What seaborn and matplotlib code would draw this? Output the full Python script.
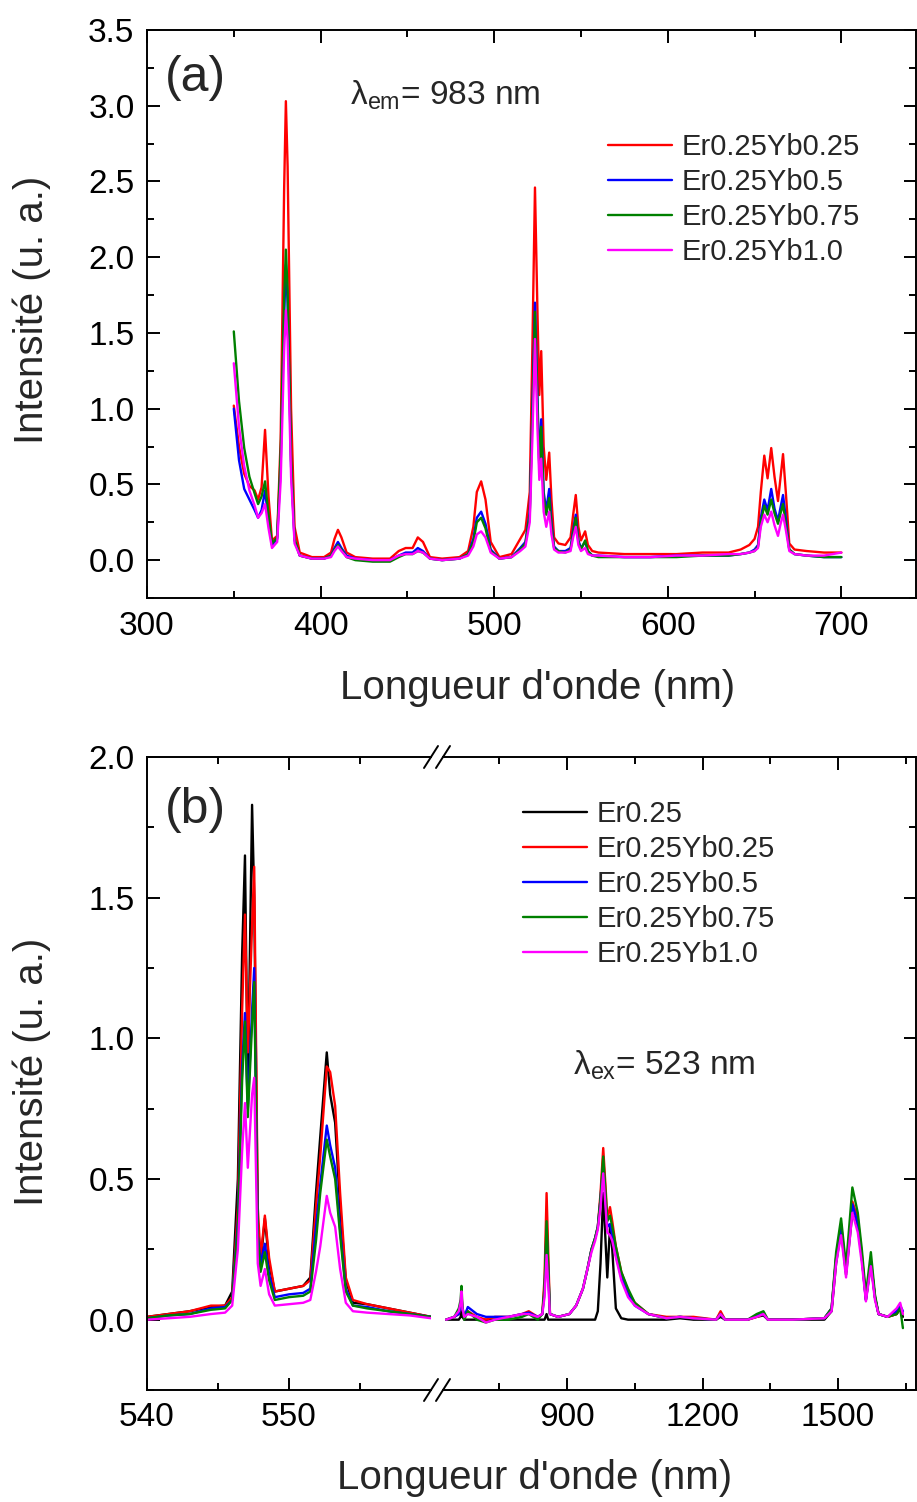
# ============================================================
# Excitation (a) and emission (b) spectra - Er / Yb samples
# ============================================================
import pandas as pd
import matplotlib
matplotlib.use('Agg')
import matplotlib.pyplot as plt
from matplotlib.lines import Line2D
import seaborn as sns

# ============================================================
# DATA - panel (a), excitation spectra (lambda_em = 983 nm)
# ============================================================
wl_a = [350, 353, 356, 359, 362, 364, 366, 368, 370, 372,
        375, 377, 379, 380, 381, 383, 385, 388, 395, 402,
        406, 408, 410, 412, 415, 420, 430, 440, 445, 449,
        453, 456, 459, 463, 470, 480, 485, 488, 490, 492.5,
        495, 498, 503, 510, 515, 518, 520.5, 522, 523.5, 525,
        526, 527.1, 528.5, 530, 531.7, 533, 534.5, 537, 541, 544,
        545.5, 547, 548.5, 550, 552.4, 554, 556.5, 560, 575, 590,
        605, 620, 635, 642, 647, 650, 652, 653.6, 655.6, 657.5,
        659.6, 661.5, 663.5, 665, 666.4, 668, 670, 673, 680, 690,
        700]
a_yb025 = [1.02, 0.75, 0.57, 0.49, 0.46, 0.40, 0.48, 0.86, 0.42, 0.13,
           0.16, 0.80, 2.45, 3.03, 2.60, 1.00, 0.22, 0.05, 0.02, 0.02,
           0.05, 0.14, 0.20, 0.15, 0.05, 0.02, 0.01, 0.01, 0.06, 0.08,
           0.08, 0.15, 0.12, 0.02, 0.01, 0.02, 0.06, 0.22, 0.45, 0.52,
           0.40, 0.12, 0.02, 0.04, 0.14, 0.20, 0.45, 1.40, 2.46, 1.60,
           1.09, 1.38, 0.75, 0.53, 0.71, 0.40, 0.15, 0.11, 0.10, 0.15,
           0.30, 0.43, 0.22, 0.13, 0.19, 0.10, 0.06, 0.05, 0.04, 0.04,
           0.04, 0.05, 0.05, 0.07, 0.10, 0.14, 0.22, 0.45, 0.69, 0.54,
           0.74, 0.55, 0.39, 0.55, 0.70, 0.45, 0.11, 0.07, 0.06, 0.05,
           0.05]
a_yb05 = [1.00, 0.66, 0.47, 0.40, 0.33, 0.28, 0.33, 0.46, 0.26, 0.10,
          0.14, 0.62, 1.62, 1.95, 1.70, 0.62, 0.13, 0.03, 0.01, 0.01,
          0.03, 0.08, 0.12, 0.08, 0.03, 0.01, 0.00, 0.00, 0.03, 0.05,
          0.05, 0.08, 0.06, 0.01, 0.00, 0.01, 0.04, 0.14, 0.28, 0.32,
          0.24, 0.07, 0.01, 0.02, 0.08, 0.12, 0.32, 1.00, 1.70, 1.05,
          0.62, 0.93, 0.45, 0.33, 0.47, 0.25, 0.09, 0.06, 0.06, 0.08,
          0.20, 0.30, 0.13, 0.08, 0.12, 0.06, 0.03, 0.03, 0.02, 0.02,
          0.03, 0.03, 0.03, 0.04, 0.05, 0.07, 0.10, 0.28, 0.40, 0.33,
          0.47, 0.34, 0.26, 0.35, 0.43, 0.28, 0.07, 0.04, 0.03, 0.02,
          0.02]
a_yb075 = [1.51, 1.05, 0.74, 0.55, 0.44, 0.37, 0.42, 0.52, 0.30, 0.11,
           0.15, 0.70, 1.72, 2.05, 1.78, 0.66, 0.14, 0.03, 0.01, 0.01,
           0.03, 0.07, 0.10, 0.07, 0.02, 0.00, -0.01, -0.01, 0.02, 0.04,
           0.04, 0.06, 0.05, 0.01, 0.00, 0.01, 0.04, 0.12, 0.25, 0.28,
           0.21, 0.06, 0.01, 0.02, 0.07, 0.11, 0.30, 0.95, 1.64, 1.00,
           0.60, 0.88, 0.42, 0.30, 0.41, 0.22, 0.08, 0.06, 0.05, 0.07,
           0.18, 0.28, 0.12, 0.07, 0.13, 0.06, 0.03, 0.02, 0.02, 0.02,
           0.02, 0.03, 0.03, 0.04, 0.05, 0.06, 0.09, 0.25, 0.36, 0.30,
           0.40, 0.31, 0.24, 0.31, 0.37, 0.24, 0.07, 0.04, 0.03, 0.02,
           0.02]
a_yb10 = [1.30, 0.88, 0.62, 0.46, 0.36, 0.28, 0.31, 0.37, 0.21, 0.08,
          0.12, 0.52, 1.38, 1.65, 1.45, 0.55, 0.11, 0.03, 0.01, 0.01,
          0.02, 0.06, 0.09, 0.06, 0.02, 0.01, 0.00, 0.00, 0.03, 0.04,
          0.04, 0.06, 0.05, 0.01, 0.00, 0.01, 0.03, 0.09, 0.17, 0.19,
          0.15, 0.05, 0.01, 0.02, 0.06, 0.09, 0.25, 0.80, 1.46, 0.85,
          0.53, 0.67, 0.32, 0.22, 0.32, 0.17, 0.07, 0.05, 0.05, 0.06,
          0.15, 0.22, 0.10, 0.06, 0.08, 0.04, 0.03, 0.03, 0.02, 0.02,
          0.03, 0.03, 0.04, 0.04, 0.05, 0.06, 0.08, 0.22, 0.30, 0.25,
          0.32, 0.23, 0.16, 0.24, 0.30, 0.20, 0.06, 0.04, 0.03, 0.03,
          0.05]
labels_a = ['Er0.25Yb0.25', 'Er0.25Yb0.5', 'Er0.25Yb0.75', 'Er0.25Yb1.0']

# ============================================================
# DATA - panel (b), emission spectra (lambda_ex = 523 nm)
# visible part (540-560 nm)
# ============================================================
wl_b1 = [540, 541.5, 543, 544.5, 545.5, 546.0, 546.4, 546.7, 546.9, 547.1,
         547.4, 547.55, 547.8, 548.0, 548.3, 548.6, 549.0, 550.0, 551.0, 551.5,
         551.9, 552.2, 552.66, 552.9, 553.25, 553.6, 554.0, 554.5, 555.5, 557.0,
         558.5, 560.0]
b1_er = [0.01, 0.02, 0.03, 0.045, 0.05, 0.10, 0.50, 1.30, 1.65, 0.80,
         1.83, 1.50, 0.35, 0.20, 0.36, 0.20, 0.10, 0.11, 0.12, 0.15,
         0.45, 0.65, 0.95, 0.80, 0.70, 0.40, 0.14, 0.06, 0.055, 0.04,
         0.025, 0.01]
b1_yb025 = [0.01, 0.02, 0.03, 0.05, 0.05, 0.08, 0.40, 1.10, 1.44, 0.95,
            1.40, 1.61, 0.40, 0.22, 0.37, 0.22, 0.10, 0.11, 0.12, 0.14,
            0.40, 0.58, 0.90, 0.88, 0.76, 0.45, 0.15, 0.07, 0.055, 0.04,
            0.025, 0.01]
b1_yb05 = [0.005, 0.015, 0.02, 0.04, 0.045, 0.07, 0.35, 0.90, 1.09, 0.75,
           1.10, 1.25, 0.30, 0.20, 0.27, 0.16, 0.08, 0.09, 0.095, 0.11,
           0.33, 0.48, 0.69, 0.62, 0.54, 0.32, 0.11, 0.05, 0.045, 0.03,
           0.02, 0.01]
b1_yb075 = [0.005, 0.015, 0.02, 0.035, 0.04, 0.07, 0.33, 0.85, 1.06, 0.72,
            1.05, 1.20, 0.30, 0.17, 0.24, 0.14, 0.07, 0.08, 0.085, 0.10,
            0.28, 0.45, 0.64, 0.58, 0.50, 0.30, 0.10, 0.05, 0.04, 0.03,
            0.02, 0.01]
b1_yb10 = [0.0, 0.005, 0.01, 0.02, 0.025, 0.05, 0.25, 0.60, 0.77, 0.54,
           0.80, 0.86, 0.20, 0.12, 0.18, 0.09, 0.05, 0.055, 0.06, 0.07,
           0.17, 0.26, 0.44, 0.38, 0.33, 0.18, 0.06, 0.03, 0.025, 0.02,
           0.015, 0.005]

# near-infrared part (630-1650 nm)
wl_b2 = [632, 650, 660, 664, 666, 668, 672, 680, 700, 720,
         740, 770, 800, 815, 835, 845, 850, 854.5, 858, 862,
         880, 905, 920, 935, 945, 954, 962, 968, 974, 980,
         986, 989, 995, 1000, 1008, 1020, 1035, 1050, 1080, 1120,
         1150, 1180, 1230, 1240, 1250, 1300, 1320, 1335, 1345, 1400,
         1470, 1486, 1496, 1507, 1518, 1532, 1544, 1553, 1562, 1573,
         1582, 1590, 1610, 1630, 1638, 1644]
b2_er = [0.0, 0.0, 0.0, 0.01, 0.03, 0.01, 0.0, 0.0, 0.0, 0.0,
         0.0, 0.0, 0.0, 0.0, 0.0, 0.0, 0.0, 0.02, 0.0, 0.0,
         0.0, 0.0, 0.0, 0.0, 0.0, 0.0, 0.0, 0.03, 0.20, 0.45,
         0.25, 0.15, 0.33, 0.25, 0.04, 0.005, 0.0, 0.0, 0.0, 0.0,
         0.005, 0.0, 0.0, 0.01, 0.0, 0.0, 0.01, 0.015, 0.0, 0.0,
         0.0, 0.03, 0.20, 0.32, 0.16, 0.38, 0.33, 0.22, 0.07, 0.20,
         0.08, 0.02, 0.01, 0.02, 0.04, 0.01]
b2_yb025 = [0.0, 0.01, 0.02, 0.05, 0.09, 0.04, 0.01, 0.03, 0.01, 0.0,
            0.01, 0.01, 0.02, 0.03, 0.01, 0.02, 0.15, 0.45, 0.25, 0.02,
            0.01, 0.02, 0.05, 0.11, 0.18, 0.25, 0.29, 0.33, 0.45, 0.61,
            0.45, 0.36, 0.40, 0.35, 0.26, 0.17, 0.10, 0.06, 0.02, 0.01,
            0.01, 0.01, 0.0, 0.03, 0.0, 0.0, 0.01, 0.02, 0.0, 0.0,
            0.005, 0.04, 0.22, 0.34, 0.17, 0.42, 0.36, 0.23, 0.075, 0.21,
            0.08, 0.02, 0.01, 0.02, 0.04, 0.02]
b2_yb05 = [0.0, 0.01, 0.02, 0.05, 0.08, 0.04, 0.01, 0.045, 0.02, 0.01,
           0.01, 0.01, 0.02, 0.025, 0.01, 0.02, 0.10, 0.32, 0.18, 0.02,
           0.01, 0.02, 0.05, 0.11, 0.18, 0.25, 0.29, 0.33, 0.43, 0.55,
           0.40, 0.33, 0.34, 0.30, 0.23, 0.15, 0.09, 0.05, 0.02, 0.005,
           0.01, 0.005, 0.0, 0.02, 0.0, 0.0, 0.015, 0.02, 0.0, 0.0,
           0.005, 0.04, 0.22, 0.33, 0.17, 0.41, 0.34, 0.22, 0.07, 0.21,
           0.08, 0.02, 0.01, 0.03, 0.05, 0.03]
b2_yb075 = [0.0, 0.01, 0.04, 0.07, 0.12, 0.05, 0.0, 0.03, 0.0, -0.01,
            0.0, 0.0, 0.01, 0.02, 0.0, 0.02, 0.12, 0.35, 0.20, 0.02,
            0.01, 0.02, 0.05, 0.11, 0.18, 0.25, 0.29, 0.33, 0.43, 0.58,
            0.43, 0.35, 0.37, 0.33, 0.26, 0.17, 0.11, 0.06, 0.02, 0.005,
            0.01, 0.005, 0.0, 0.02, 0.0, 0.0, 0.02, 0.03, 0.0, 0.0,
            0.005, 0.04, 0.24, 0.36, 0.19, 0.47, 0.38, 0.25, 0.09, 0.24,
            0.09, 0.02, 0.01, 0.02, 0.04, -0.03]
b2_yb10 = [0.0, 0.01, 0.03, 0.06, 0.10, 0.04, 0.01, 0.02, 0.01, -0.01,
           0.0, 0.01, 0.02, 0.02, 0.01, 0.02, 0.08, 0.23, 0.13, 0.02,
           0.01, 0.02, 0.05, 0.11, 0.18, 0.24, 0.28, 0.32, 0.40, 0.52,
           0.38, 0.31, 0.30, 0.28, 0.22, 0.14, 0.08, 0.05, 0.02, 0.005,
           0.01, 0.005, 0.0, 0.02, 0.0, 0.0, 0.01, 0.02, 0.0, 0.0,
           0.005, 0.03, 0.20, 0.30, 0.15, 0.38, 0.31, 0.20, 0.065, 0.19,
           0.07, 0.02, 0.01, 0.04, 0.06, 0.02]
labels_b = ['Er0.25', 'Er0.25Yb0.25', 'Er0.25Yb0.5', 'Er0.25Yb0.75', 'Er0.25Yb1.0']

colors_a = ['#ff0000', '#0000ff', '#008000', '#ff00ff']
colors_b = ['#000000', '#ff0000', '#0000ff', '#008000', '#ff00ff']

# ============================================================
# STYLE
# ============================================================
sns.set_style('ticks')
plt.rcParams['font.family'] = ['Liberation Sans', 'DejaVu Sans']
plt.rcParams['mathtext.fontset'] = 'custom'
plt.rcParams['mathtext.rm'] = 'Liberation Sans'
plt.rcParams['mathtext.it'] = 'Liberation Sans'
plt.rcParams['axes.linewidth'] = 1.4

W, H = 917, 1502
TICK_FS = 24
LABEL_FS = 29
LEG_FS = 21
LW = 1.7


def px_box(x0, y0, x1, y1):
    # pixel box (top-left origin) -> figure fraction [l, b, w, h]
    return [x0 / W, 1 - y1 / H, (x1 - x0) / W, (y1 - y0) / H]


def style_axis(ax):
    ax.tick_params(which='both', direction='in', top=True, labelsize=TICK_FS,
                   width=1.4, pad=9, colors='black')
    ax.tick_params(which='major', length=9)
    ax.tick_params(which='minor', length=5)
    for sp in ax.spines.values():
        sp.set_color('black')
    ax.set_xlabel('')
    ax.set_ylabel('')


fig = plt.figure(figsize=(W / 100, H / 100), dpi=100)

# ============================================================
# PANEL (a)
# ============================================================
ax_a = fig.add_axes(px_box(147, 30, 916, 598))
for ys, lab, col in zip([a_yb025, a_yb05, a_yb075, a_yb10], labels_a, colors_a):
    sns.lineplot(x=wl_a, y=ys, color=col, lw=LW, label=lab, ax=ax_a,
                 estimator=None, sort=False)
ax_a.set_xlim(300, 743)
ax_a.set_ylim(-0.25, 3.5)
ax_a.set_xticks([300, 400, 500, 600, 700])
ax_a.set_xticks([350, 450, 550, 650], minor=True)
ax_a.set_yticks([0.0, 0.5, 1.0, 1.5, 2.0, 2.5, 3.0, 3.5])
ax_a.set_yticks([-0.25, 0.25, 0.75, 1.25, 1.75, 2.25, 2.75, 3.25], minor=True)
ax_a.set_yticklabels([f'{v:.1f}' for v in ax_a.get_yticks()])
ax_a.tick_params(which='both', right=True)
style_axis(ax_a)
ax_a.legend(loc='upper left', bbox_to_anchor=((608 - 147) / 769, (598 - 133) / 568),
            frameon=False, fontsize=LEG_FS, handlelength=2.2, handletextpad=0.33,
            labelspacing=0.24, borderpad=0, borderaxespad=0)

fig.text(165 / W, 1 - 78 / H, '(a)', fontsize=36, ha='left', va='center')
fig.text(350 / W, 1 - 95 / H, r'λ$_{\mathrm{em}}$= 983 nm', fontsize=24,
         ha='left', va='center')
fig.text(32 / W, 1 - 310 / H, 'Intensité (u. a.)', fontsize=LABEL_FS,
         rotation=90, ha='center', va='center')
fig.text(538 / W, 1 - 688 / H, "Longueur d'onde (nm)", fontsize=LABEL_FS,
         ha='center', va='center')

# ============================================================
# PANEL (b) - broken x axis
# ============================================================
ax_b1 = fig.add_axes(px_box(147, 757, 431, 1390))
ax_b2 = fig.add_axes(px_box(443, 757, 916, 1390))

for ys, lab, col in zip([b1_er, b1_yb025, b1_yb05, b1_yb075, b1_yb10], labels_b, colors_b):
    sns.lineplot(x=wl_b1, y=ys, color=col, lw=LW, label=lab, ax=ax_b1,
                 estimator=None, sort=False)
for ys, col in zip([b2_er, b2_yb025, b2_yb05, b2_yb075, b2_yb10], colors_b):
    sns.lineplot(x=wl_b2, y=ys, color=col, lw=LW, ax=ax_b2,
                 estimator=None, sort=False)

for ax in (ax_b1, ax_b2):
    ax.set_ylim(-0.25, 2.0)
    ax.set_yticks([0.0, 0.5, 1.0, 1.5, 2.0])
    ax.set_yticks([-0.25, 0.25, 0.75, 1.25, 1.75], minor=True)
    style_axis(ax)

ax_b1.set_xlim(540, 560)
ax_b1.set_xticks([540, 550])
ax_b1.set_xticks([545, 555], minor=True)
ax_b1.set_yticklabels([f'{v:.1f}' for v in ax_b1.get_yticks()])
ax_b1.spines['right'].set_visible(False)

ax_b2.set_xlim(625, 1673)
ax_b2.set_xticks([900, 1200, 1500])
ax_b2.set_xticks([750, 1050, 1350, 1650], minor=True)
ax_b2.spines['left'].set_visible(False)
ax_b2.tick_params(which='both', left=False, right=True, labelleft=False)

handles, labels = ax_b1.get_legend_handles_labels()
ax_b1.get_legend().remove()
ax_b2.legend(handles, labels, loc='upper left',
             bbox_to_anchor=((523 - 443) / 473, (1390 - 800) / 633),
             frameon=False, fontsize=LEG_FS, handlelength=2.2, handletextpad=0.33,
             labelspacing=0.24, borderpad=0, borderaxespad=0)

# break marks "//" on top and bottom spines
for yb in (757, 1390):
    for xb in (431, 443):
        fig.add_artist(Line2D([(xb - 7) / W, (xb + 7) / W],
                              [1 - (yb + 11) / H, 1 - (yb - 11) / H],
                              color='black', lw=1.4))

fig.text(165 / W, 1 - 810 / H, '(b)', fontsize=36, ha='left', va='center')
fig.text(573 / W, 1 - 1065 / H, r'λ$_{\mathrm{ex}}$= 523 nm', fontsize=24,
         ha='left', va='center')
fig.text(32 / W, 1 - 1072 / H, 'Intensité (u. a.)', fontsize=LABEL_FS,
         rotation=90, ha='center', va='center')
fig.text(535 / W, 1 - 1478 / H, "Longueur d'onde (nm)", fontsize=LABEL_FS,
         ha='center', va='center')

fig.savefig('out.png', dpi=100)
